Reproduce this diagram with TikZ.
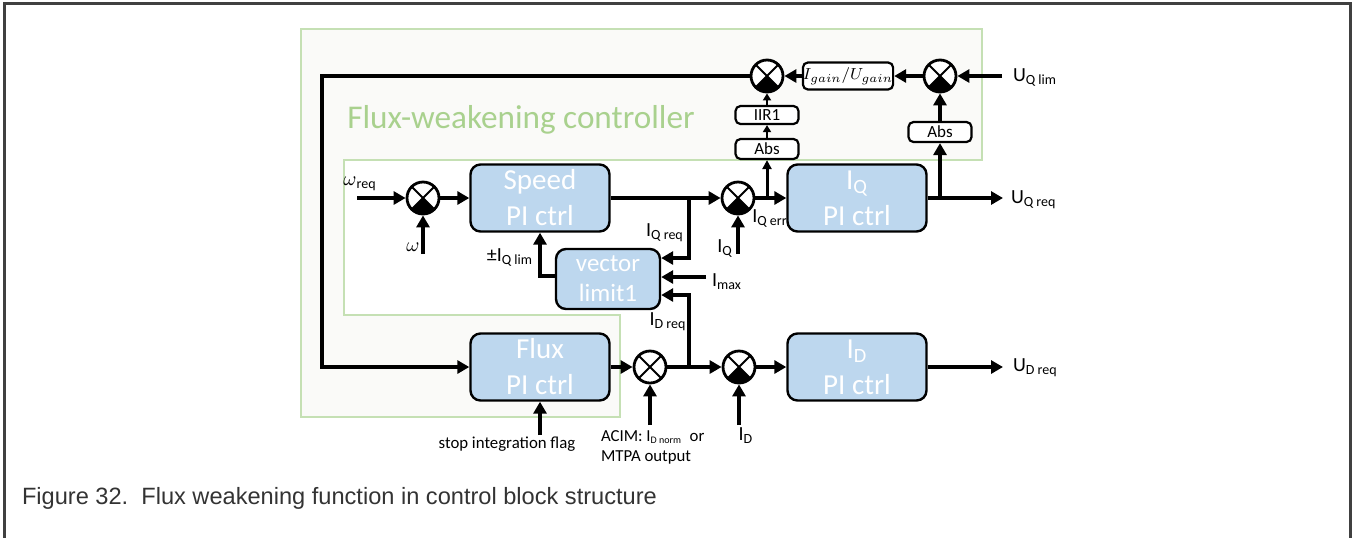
\documentclass[tikz,border=0pt]{standalone}
\usepackage{fontspec}
\setmainfont{Carlito}
\newfontfamily\capfont{Liberation Sans}
\usetikzlibrary{arrows.meta}

\definecolor{ctrlblue}{HTML}{BDD7EE}
\definecolor{fwgreen}{HTML}{A9D18E}
\definecolor{fwline}{HTML}{C5E0B4}
\definecolor{fwfill}{HTML}{FAFAF8}
\definecolor{framegray}{HTML}{404040}
\definecolor{capgray}{HTML}{333333}

\begin{document}
\begin{tikzpicture}[x=0.5pt,y=-0.5pt,line width=2pt,
    >={Triangle[length=6pt,width=6.5pt]},
    pibox/.style={draw,line width=1.2pt,rounded corners=5pt,fill=ctrlblue,text=white,
      minimum width=69.5pt,minimum height=33.5pt,inner sep=0pt,align=center,
      font=\fontsize{14.5}{18}\selectfont},
    smallbox/.style={draw,line width=1.1pt,rounded corners=2.5pt,fill=white,
      minimum width=31.5pt,minimum height=10pt,inner sep=0pt,
      font=\fontsize{8.5}{9}\selectfont},
    sumbase/.style={circle,draw,line width=1.4pt,minimum size=16pt,inner sep=0pt,fill=white},
    sumplain/.style={sumbase,path picture={
      \draw[black,line width=1pt] (path picture bounding box.north west) -- (path picture bounding box.south east)
        (path picture bounding box.north east) -- (path picture bounding box.south west);}},
    sumneg/.style={sumbase,path picture={
      \fill[black] (path picture bounding box.center) -- (path picture bounding box.south west)
        -- (path picture bounding box.south east) -- cycle;
      \draw[black,line width=1pt] (path picture bounding box.north west) -- (path picture bounding box.south east)
        (path picture bounding box.north east) -- (path picture bounding box.south west);}},
    sig/.style={font=\fontsize{10}{11}\selectfont,inner sep=1pt},
    note/.style={font=\fontsize{8.4}{10}\selectfont,inner sep=1pt},
    thinarrow/.style={line width=1pt,>={Triangle[length=3.5pt,width=4pt]}}]
    \useasboundingbox (0,0) rectangle (1352,537);
    % page frame
    \draw[framegray,line width=1.5pt] (4.5,545) -- (4.5,3.5) -- (1350,3.5) -- (1350,545);
    % flux-weakening region
    \draw[fwline,line width=1.3pt,fill=fwfill] (301,29) -- (982,29) -- (982,160) -- (344,160)
      -- (344,315) -- (620,315) -- (620,417) -- (301,417) -- cycle;
    \node[text=fwgreen,font=\fontsize{16.6}{20}\selectfont] (fwtitle) at (521,120) {Flux-weakening controller};

    % controllers
    \node[pibox] (speed) at (540,198) {Speed\\PI ctrl};
    \node[pibox] (iqpi) at (857,198) {I\textsubscript{Q}\\PI ctrl};
    \node[pibox] (flux) at (540,367) {Flux\\PI ctrl};
    \node[pibox] (idpi) at (857,367) {I\textsubscript{D}\\PI ctrl};
    \node[pibox,minimum width=52pt,minimum height=30pt,font=\fontsize{12.5}{15}\selectfont] (vlim) at (608,279) {vector\\limit1};

    % summing junctions
    \node[sumneg] (ssum) at (423,198) {};
    \node[sumneg] (qsum) at (738,198) {};
    \node[sumplain] (nsum) at (650,367) {};
    \node[sumneg] (dsum) at (739,367) {};
    \node[sumneg] (fsum) at (767,76) {};
    \node[sumneg] (gsum) at (940,76) {};

    % small blocks
    \node[smallbox] (absl) at (767,149) {Abs};
    \node[smallbox,minimum height=9pt] (iir) at (767,115) {IIR1};
    \node[smallbox] (absr) at (940,132) {Abs};
    \node[smallbox,minimum width=43.5pt,minimum height=13.5pt,font=\fontsize{8.5}{10}\selectfont] (gain) at (848,76) {$I_{gain}/U_{gain}$};

    % inputs, outputs and branch points
    \coordinate (wreq) at (357,198);
    \coordinate (win) at (423,254);
    \coordinate (qbr) at (689,198);
    \coordinate (qreqin) at (689,258);
    \coordinate (dbr) at (689,367);
    \coordinate (dreqin) at (689,295);
    \coordinate (imaxin) at (706,277);
    \coordinate (limout) at (556,276);
    \coordinate (iqin) at (738,254);
    \coordinate (qerr) at (767,198);
    \coordinate (uqbr) at (940,198);
    \coordinate (uqout) at (1003,198);
    \coordinate (uqlim) at (1002,76);
    \coordinate (fbk) at (322,76);
    \coordinate (stopin) at (540,435);
    \coordinate (acimin) at (650,425);
    \coordinate (idin) at (739,425);
    \coordinate (udout) at (1003,367);

    % speed loop
    \draw[->] (wreq) -- (ssum);
    \draw[->] (win) -- (ssum);
    \draw[->] (ssum) -- (speed);
    \draw[->] (speed) -- (qsum);
    \draw[->] (qbr) -- (qreqin) -- (vlim.east |- qreqin);
    \draw[->] (imaxin) -- (vlim.east |- imaxin);
    \draw[->] (dbr) -- (dreqin) -- (vlim.east |- dreqin);
    \draw[->] (vlim.west |- limout) -| (speed.south);
    % q axis
    \draw[->] (iqin) -- (qsum);
    \draw[->] (qsum) -- (iqpi);
    \draw[->] (iqpi) -- (uqout);
    \draw[->,line width=1.5pt,>={Triangle[length=4.5pt,width=4.5pt]}] (qerr) -- (absl);
    \draw[->,thinarrow] (absl) -- (iir);
    \draw[->,thinarrow] (iir) -- (fsum);
    \draw[->] (uqbr) -- (absr);
    \draw[->] (absr) -- (gsum);
    \draw[->] (uqlim) -- (gsum);
    \draw[->] (gsum) -- (gain);
    \draw[->] (gain) -- (fsum);
    % flux loop and d axis
    \draw[->] (fsum) -- (fbk) |- (flux);
    \draw[->] (stopin) -- (flux);
    \draw[->] (flux) -- (nsum);
    \draw[->] (acimin) -- (nsum);
    \draw[->] (nsum) -- (dsum);
    \draw[->] (idin) -- (dsum);
    \draw[->] (dsum) -- (idpi);
    \draw[->] (idpi) -- (udout);

    % signal labels
    \node[sig] (lwreq) at (360,184) {$\omega$\textsubscript{req}};
    \node[sig] (lw) at (413,247) {$\omega$};
    \node[sig,anchor=east] (lqlim) at (537,257) {±I\textsubscript{Q lim}};
    \node[sig] (lqreq) at (665,233) {I\textsubscript{Q req}};
    \node[sig] (limax) at (727,282) {I\textsubscript{max}};
    \node[sig] (ldreq) at (668,322) {I\textsubscript{D req}};
    \node[sig] (lqerr) at (770,218) {I\textsubscript{Q err}};
    \node[sig] (liq) at (725,248) {I\textsubscript{Q}};
    \node[sig,anchor=west] (luqreq) at (1007,200) {U\textsubscript{Q req}};
    \node[sig,anchor=west] (luqlim) at (1009,78) {U\textsubscript{Q lim}};
    \node[sig,anchor=west] (ludreq) at (1009,368) {U\textsubscript{D req}};
    \node[sig] (lid) at (746,436) {I\textsubscript{D}};
    \node[note] (lstop) at (507,444) {stop integration flag};
    \node[note,align=left,anchor=west] (lacim) at (597,447) {ACIM: I\textsubscript{\tiny D norm}\ \ or\\MTPA output};

    % caption
    \node[anchor=base west,inner sep=0pt,text=capgray,font=\capfont\fontsize{11.8}{14}\selectfont] (caption) at (20,504)
      {Figure 32.\ \ Flux weakening function in control block structure};
\end{tikzpicture}
\end{document}
